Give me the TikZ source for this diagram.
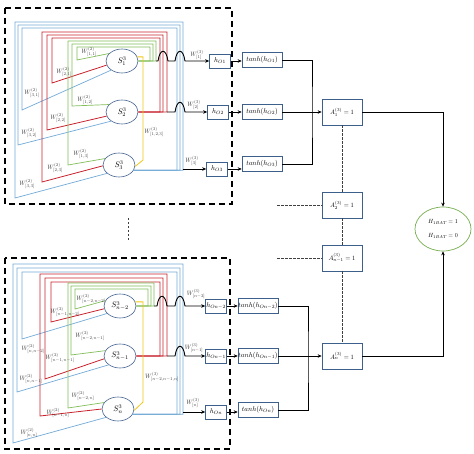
\documentclass[tikz,border=0pt]{standalone}
\usepackage{graphicx}
\usetikzlibrary{shapes.geometric,arrows.meta}
\definecolor{wblue}{RGB}{115,170,215}
\definecolor{wred}{RGB}{200,35,45}
\definecolor{wgreen}{RGB}{130,190,90}
\definecolor{wyellow}{RGB}{240,200,20}
\definecolor{ellc}{RGB}{70,100,145}
\definecolor{boxc}{RGB}{60,95,140}
\definecolor{hgreen}{RGB}{120,175,80}
\definecolor{labc}{RGB}{60,60,60}
\newcommand{\mywt}[1]{\scalebox{0.62}{$#1$}}
\newcommand{\mytx}[1]{\scalebox{0.7}{$#1$}}
\newcommand{\mysx}[1]{\scalebox{0.8}{$#1$}}
\newcommand{\myat}[1]{\scalebox{0.65}{$#1$}}
\tikzset{
  neuron/.style={ellipse, draw=ellc, line width=0.6pt, minimum width=32pt, minimum height=24pt, inner sep=0pt},
  hbox/.style={draw=boxc, line width=0.6pt, minimum width=21pt, minimum height=14pt, inner sep=0pt},
  tbox/.style={draw=boxc, line width=0.6pt, minimum width=40pt, minimum height=15pt, inner sep=0pt},
  abox/.style={draw=boxc, line width=0.7pt, minimum width=40pt, minimum height=26pt, inner sep=0pt},
  hnode/.style={ellipse, draw=hgreen, line width=0.7pt, minimum width=56pt, minimum height=44pt, inner sep=0pt, align=center, font=\fontsize{10}{14}\selectfont},
  wl/.style={inner sep=0pt, text=labc},
  gl/.style={draw=wgreen, line width=0.7pt},
  rl/.style={draw=wred, line width=0.8pt},
  bl/.style={draw=wblue, line width=0.7pt},
  yl/.style={draw=wyellow, line width=0.8pt},
  conn/.style={draw=black, line width=0.9pt},
  arr/.style={conn, -{Stealth[length=4pt,width=3.5pt]}},
  blockrect/.style={draw=black, line width=1.4pt, dash pattern=on 6pt off 4pt},
  adash/.style={draw=black!75, line width=0.8pt, dash pattern=on 2.5pt off 1.5pt},
}
\begin{document}
\begin{tikzpicture}[x=1pt,y=-1pt]
\useasboundingbox (0,0) rectangle (474,454);
\fill[white] (0,0) rectangle (474,454);

% ===== top block =====
\draw[blockrect] (5,8) rectangle (232,204);
\node[neuron] (S1) at (122,61) {\mysx{S^{3}_{1}}};
\node[neuron] (S2) at (122,112) {\mysx{S^{3}_{2}}};
\node[neuron] (S3) at (119,165) {\mysx{S^{3}_{3}}};

% blue (from S3)
\draw[bl] (S3.-20) -| (183,22) -- (15,22) -- (15,198) -- (S3.215);
\draw[bl] (S3.-20) -| (180,25) -- (18,25) -- (18,145) -- (S2.220);
\draw[bl] (S3.-20) -| (177,28) -- (22,28) -- (22,110) -- (S1.220);
% red (from S2)
\draw[rl] (S2.east) -| (167,32) -- (42,32) -- (42,182) -- (S3.183);
\draw[rl] (S2.east) -| (163,35) -- (47,35) -- (47,130) -- (S2.195);
\draw[rl] (S2.east) -| (160,38) -- (52,38) -- (52,83) -- (S1.195);
% green (from S1)
\draw[gl] (S1.east) -| (156,41) -- (68,41) -- (68,165) -- (S3.155);
\draw[gl] (S1.east) -| (153,44) -- (72,44) -- (72,106) -- (S2.150);
\draw[gl] (S1.east) -| (150,47) -- (77,47) -- (77,60) -- (S1.150);
% yellow
\draw[yl] (S1.15) -| (143,160) -- (S3.-5);

% weight labels
\node[wl] at (89,52) {\mywt{W^{(2)}_{[1,1]}}};
\node[wl] at (64,72) {\mywt{W^{(2)}_{[2,1]}}};
\node[wl] at (32,93) {\mywt{W^{(2)}_{[3,1]}}};
\node[wl] at (85,100) {\mywt{W^{(2)}_{[1,2]}}};
\node[wl] at (58,118) {\mywt{W^{(2)}_{[2,2]}}};
\node[wl] at (29,133) {\mywt{W^{(2)}_{[3,2]}}};
\node[wl] at (81,154) {\mywt{W^{(2)}_{[1,3]}}};
\node[wl] at (55,168) {\mywt{W^{(2)}_{[2,3]}}};
\node[wl] at (27,184) {\mywt{W^{(2)}_{[3,3]}}};
\node[wl] at (154,132) {\mywt{W^{(3)}_{[1,2,3]}}};

% h boxes
\node[hbox] (h1) at (220,61) {\mytx{h_{O1}}};
\node[hbox] (h2) at (218,112) {\mytx{h_{O2}}};
\node[hbox] (h3) at (217,169) {\mytx{h_{O3}}};
\coordinate (o1) at (156,61);
\coordinate (o2) at (167,112);
\coordinate (o3) at (183,169);
\draw[arr] (o1) -- (158,61) .. controls (160,48) and (166,48) .. (168,61) -- (175,61) .. controls (177,48) and (183,48) .. (185,61) -- (h1.west);
\draw[arr] (o2) -- (175,112) .. controls (177,99) and (183,99) .. (185,112) -- (h2.west);
\draw[arr] (o3) -- (h3.west);
\node[wl] at (197,55) {\mywt{W^{(3)}_{[1]}}};
\node[wl] at (194,105) {\mywt{W^{(3)}_{[2]}}};
\node[wl] at (192,161) {\mywt{W^{(3)}_{[3]}}};

% tanh boxes
\node[tbox] (t1) at (262,60) {\mytx{tanh(h_{O1})}};
\node[tbox] (t2) at (262,112) {\mytx{tanh(h_{O2})}};
\node[tbox] (t3) at (262,164) {\mytx{tanh(h_{O3})}};
\draw[arr] (h1.east) -- (h1.east -| t1.west);
\draw[arr] (h2.east) -- (h2.east -| t2.west);
\draw[arr] (h3.east) -- (h3.east -| t3.west);

\node[abox] (A1) at (342,112) {\myat{A^{(3)}_{1}=1}};
\coordinate (j1) at (312,112);
\draw[conn] (t1.east) -| (j1) |- (t3.east);
\draw[arr] (t2.east) -- (A1.west);

% ===== middle =====
\coordinate (v1) at (128,218);
\coordinate (v2) at (128,240);
\draw[adash] (v1) -- (v2);
\node[abox] (A2) at (342,205) {\myat{A^{(3)}_{2}=1}};
\node[abox] (Am) at (342,258) {\myat{A^{(3)}_{n-1}=1}};
\coordinate (d1) at (277,205);
\coordinate (d2) at (277,258);
\draw[adash] (d1) -- (A2.west);
\draw[adash] (d2) -- (Am.west);

% ===== bottom block =====
\draw[blockrect] (5,258) rectangle (230,449);
\node[neuron] (Sa) at (120,306) {\mysx{S^{3}_{n-2}}};
\node[neuron] (Sb) at (120,356) {\mysx{S^{3}_{n-1}}};
\node[neuron] (Sc) at (118,409) {\mysx{S^{3}_{n}}};

% blue (from Sn)
\draw[bl] (Sc.-20) -| (183,264) -- (13,264) -- (13,443) -- (Sc.215);
\draw[bl] (Sc.-20) -| (180,268) -- (17,268) -- (17,392) -- (Sb.218);
\draw[bl] (Sc.-20) -| (177,272) -- (22,272) -- (22,339) -- (Sa.210);
% red (from Sn-1)
\draw[rl] (Sb.east) -| (167,274) -- (40,274) -- (40,416) -- (Sc.180);
\draw[rl] (Sb.east) -| (163,278) -- (45,278) -- (45,379) -- (Sb.190);
\draw[rl] (Sb.east) -| (160,282) -- (51,282) -- (51,322) -- (Sa.190);
% green (from Sn-2)
\draw[gl] (Sa.east) -| (154,283) -- (68,283) -- (68,408) -- (Sc.155);
\draw[gl] (Sa.east) -| (151,286) -- (71,286) -- (71,355) -- (Sb.160);
\draw[gl] (Sa.east) -| (148,289) -- (75,289) -- (75,309) -- (Sa.160);
% yellow
\draw[yl] (Sa.15) -| (143,402) -- (Sc.-5);

\node[wl] at (91,299) {\mywt{W^{(2)}_{[n-2,n-2]}}};
\node[wl] at (65,312) {\mywt{W^{(2)}_{[n-1,n-2]}}};
\node[wl] at (33,349) {\mywt{W^{(2)}_{[n,n-2]}}};
\node[wl] at (90,336) {\mywt{W^{(2)}_{[n-2,n-1]}}};
\node[wl] at (60,358) {\mywt{W^{(2)}_{[n-1,n-1]}}};
\node[wl] at (31,379) {\mywt{W^{(2)}_{[n,n-1]}}};
\node[wl] at (83,396) {\mywt{W^{(2)}_{[n-2,n]}}};
\node[wl] at (58,413) {\mywt{W^{(2)}_{[n-1,n]}}};
\node[wl] at (29,433) {\mywt{W^{(2)}_{[n,n]}}};
\node[wl] at (162,377) {\mywt{W^{(3)}_{[n-2,n-1,n]}}};

\node[hbox] (ha) at (216,306) {\mytx{h_{On-2}}};
\node[hbox] (hb) at (216,356) {\mytx{h_{On-1}}};
\node[hbox] (hc) at (216,412) {\mytx{h_{On}}};
\coordinate (oa) at (154,306);
\coordinate (ob) at (167,356);
\coordinate (oc) at (183,412);
\draw[arr] (oa) -- (157,306) .. controls (159,293) and (165,293) .. (167,306) -- (175,306) .. controls (177,293) and (183,293) .. (185,306) -- (ha.west);
\draw[arr] (ob) -- (175,356) .. controls (177,343) and (183,343) .. (185,356) -- (hb.west);
\draw[arr] (oc) -- (hc.west);
\node[wl] at (196,294) {\mywt{W^{(3)}_{[n-2]}}};
\node[wl] at (194,348) {\mywt{W^{(3)}_{[n-1]}}};
\node[wl] at (193,403) {\mywt{W^{(3)}_{[n]}}};

\node[tbox] (ta) at (258,306) {\mytx{tanh(h_{On-2})}};
\node[tbox] (tb) at (258,356) {\mytx{tanh(h_{On-1})}};
\node[tbox] (tc) at (258,410) {\mytx{tanh(h_{On})}};
\draw[arr] (ha.east) -- (ha.east -| ta.west);
\draw[arr] (hb.east) -- (hb.east -| tb.west);
\draw[arr] (hc.east) -- (hc.east -| tc.west);

\node[abox] (An) at (342,356) {\myat{A^{(3)}_{n}=1}};
\coordinate (j2) at (308,356);
\draw[conn] (ta.east) -| (j2) |- (tc.east);
\draw[arr] (tb.east) -- (An.west);

\draw[adash] (A1.south) -- (A2.north);
\draw[adash] (A2.south) -- (Am.north);
\draw[adash] (Am.south) -- (An.north);

% ===== output =====
\node[hnode] (H) at (443,229) {\scalebox{0.6}{$H_{1BAT}=1$}\\\scalebox{0.6}{$H_{1BAT}=0$}};
\draw[arr] (A1.east) -| (H.north);
\draw[arr] (An.east) -| (H.south);
\end{tikzpicture}
\end{document}
